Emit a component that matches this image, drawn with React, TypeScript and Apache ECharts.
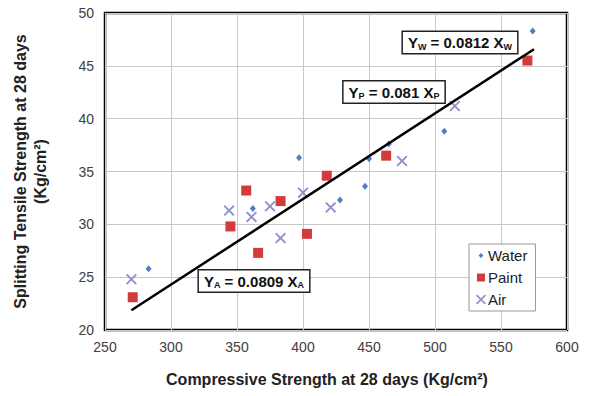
import React, { useEffect, useRef } from "react";
import * as echarts from "echarts";

// Compressive strength (x) vs splitting tensile strength (y) at 28 days, by curing method
const waterX = [283, 362, 397, 428, 447, 450, 465, 507, 574];
const waterY = [25.8, 31.5, 36.3, 32.3, 33.6, 36.2, 37.6, 38.8, 48.3];

const paintX = [271, 345, 357, 366, 383, 403, 418, 463, 570];
const paintY = [23.1, 29.8, 33.2, 27.3, 32.2, 29.1, 34.6, 36.5, 45.5];

const airX = [270, 344, 361, 375, 383, 400, 421, 475, 515];
const airY = [24.8, 31.3, 30.7, 31.7, 28.7, 33.0, 31.6, 36.0, 41.2];

// Fitted line Y = k·X drawn over the observed range
const fitSlope = 0.081;
const fitRangeX = [270, 575];

const xTicks = { min: 250, max: 600, interval: 50 };
const yTicks = { min: 20, max: 50, interval: 5 };

const WATER = "#4f7fc0";
const PAINT = "#d23a3c";
const AIR = "#8f90cc";

const crossPath =
  "path://M0,1.2 L1.2,0 L5,3.8 L8.8,0 L10,1.2 L6.2,5 L10,8.8 L8.8,10 L5,6.2 L1.2,10 L0,8.8 L3.8,5 Z";
// diamond padded inside a 10x10 box so the legend icon stays small
const legendDiamond = "path://M0,0 M10,10 M5,2.6 L7.4,5 L5,7.4 L2.6,5 Z";
const legendSquare = "path://M0,0 M10,10 M1,1 L9,1 L9,9 L1,9 Z";

const pairs = (xs: number[], ys: number[]) => xs.map((x, i) => [x, ys[i]]);

const FONT = "Arial, Liberation Sans, sans-serif";

const eqRich = {
  b: { fontFamily: FONT, fontSize: 15, fontWeight: "bold", fill: "#111", lineHeight: 17 },
  s: {
    fontFamily: FONT,
    fontSize: 9,
    fontWeight: "bold",
    fill: "#111",
    lineHeight: 17,
    verticalAlign: "bottom",
    padding: [7, 0, 0, 0],
  },
};

function eqLabel(x: number, y: number, sub: string, coef: string) {
  return {
    type: "text",
    x,
    y,
    z: 100,
    style: {
      text: `{b|Y}{s|${sub}}{b| = ${coef} X}{s|${sub}}`,
      rich: eqRich,
      fontFamily: FONT,
      fontWeight: "bold",
      fontSize: 15,
      fill: "#111",
      backgroundColor: "#fff",
      borderColor: "#222",
      borderWidth: 1.5,
      padding: [2, 5, 2, 5],
      align: "center",
      verticalAlign: "middle",
    },
  };
}

export default function App() {
  const ref = useRef<HTMLDivElement>(null);

  useEffect(() => {
    if (!ref.current) return;
    const chart = echarts.init(ref.current, null, { renderer: "svg" });

    chart.setOption({
      animation: false,
      backgroundColor: "#fff",
      grid: {
        left: 105,
        right: 25,
        top: 13,
        bottom: 66,
        show: true,
        borderColor: "#000",
        borderWidth: 2.5,
        backgroundColor: "#fff",
      },
      xAxis: {
        type: "value",
        ...xTicks,
        name: "Compressive Strength at 28 days (Kg/cm²)",
        nameLocation: "middle",
        nameGap: 41,
        nameTextStyle: {
          fontFamily: FONT,
          fontWeight: "bold",
          fontSize: 16,
          color: "#222",
          padding: [0, 18, 0, 0],
        },
        axisLine: { show: false },
        axisTick: { show: false },
        axisLabel: { fontFamily: FONT, fontSize: 14, color: "#404040", margin: 10 },
        splitLine: { show: true, lineStyle: { color: "#c8c8c8", width: 1 } },
      },
      yAxis: {
        type: "value",
        ...yTicks,
        name: "Splitting Tensile Strength at 28 days\n(Kg/cm²)",
        nameLocation: "middle",
        nameRotate: 90,
        nameGap: 55,
        nameTextStyle: {
          fontFamily: FONT,
          fontWeight: "bold",
          fontSize: 16,
          color: "#222",
          lineHeight: 20,
        },
        axisLine: { show: false },
        axisTick: { show: false },
        axisLabel: { fontFamily: FONT, fontSize: 14, color: "#404040", margin: 11 },
        splitLine: { show: true, lineStyle: { color: "#c8c8c8", width: 1 } },
      },
      legend: {
        orient: "vertical",
        left: 469,
        top: 244,
        padding: [4, 8, 4, 7],
        itemGap: 7,
        itemWidth: 10,
        itemHeight: 10,
        backgroundColor: "#fff",
        borderColor: "#999",
        borderWidth: 1,
        borderRadius: 0,
        textStyle: { fontFamily: FONT, fontSize: 15, color: "#222", padding: [0, 0, 0, -3] },
        data: [
          { name: "Water", icon: legendDiamond },
          { name: "Paint", icon: legendSquare },
          { name: "Air", icon: crossPath },
        ],
      },
      series: [
        {
          name: "Fit",
          type: "line",
          data: fitRangeX.map((x) => [x, x * fitSlope]),
          showSymbol: false,
          silent: true,
          lineStyle: { color: "#000", width: 2.5 },
          z: 3,
        },
        {
          name: "Water",
          type: "scatter",
          data: pairs(waterX, waterY),
          symbol: "diamond",
          symbolSize: [6, 7],
          itemStyle: { color: WATER, opacity: 1 },
          z: 2,
        },
        {
          name: "Paint",
          type: "scatter",
          data: pairs(paintX, paintY),
          symbol: "rect",
          symbolSize: 10,
          itemStyle: { color: PAINT, opacity: 1 },
          z: 2,
        },
        {
          name: "Air",
          type: "scatter",
          data: pairs(airX, airY),
          symbol: crossPath,
          symbolSize: 11,
          itemStyle: { color: AIR, opacity: 1 },
          z: 2,
        },
      ],
      graphic: [
        eqLabel(460, 42.5, "W", "0.0812"),
        eqLabel(394, 92, "P", "0.081"),
        eqLabel(254, 281, "A", "0.0809"),
      ],
    });

    return () => chart.dispose();
  }, []);

  return (
    <div
      ref={ref}
      style={{ position: "fixed", left: 0, top: 0, width: 592, height: 396, background: "#fff" }}
    />
  );
}
